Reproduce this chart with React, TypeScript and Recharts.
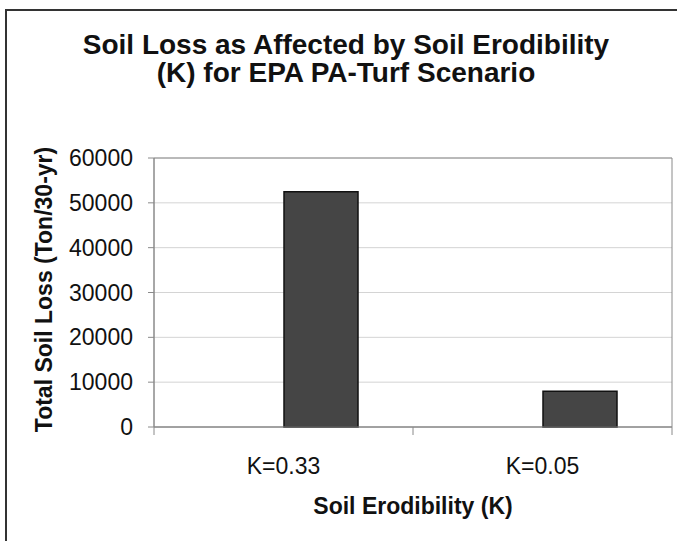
import { Bar, BarChart, CartesianGrid, Label, ReferenceArea, XAxis, YAxis } from "recharts";

const categories = ["K=0.33", "K=0.05"];
const soilLoss = [52500, 8000];
const yTicks = [0, 10000, 20000, 30000, 40000, 50000, 60000];

const data = categories.map((name, i) => ({ name, blank: null, value: soilLoss[i] }));

const FONT = "'Liberation Sans', Arial, sans-serif";
const AXIS_GRAY = "#8a8a8a";

function CategoryTick(props: any) {
  const { x, y, payload, index, visibleTicksCount } = props;
  const half = payload?.offset ?? 0;
  const last = index === (visibleTicksCount ?? categories.length) - 1;
  return (
    <g>
      <line x1={x - half} x2={x - half} y1={y - 8} y2={y} stroke={AXIS_GRAY} />
      {last && <line x1={x + half} x2={x + half} y1={y - 8} y2={y} stroke={AXIS_GRAY} />}
      <text x={x} y={y + 39} textAnchor="middle" fontSize={23} fontFamily={FONT} fill="#111">
        {payload.value}
      </text>
    </g>
  );
}

export default function App() {
  return (
    <div style={{ position: "absolute", left: 0, top: 0, width: 677, height: 541, overflow: "hidden", background: "#fff" }}>
      <div
        style={{
          position: "absolute",
          left: 5,
          top: 9,
          width: 720,
          height: 580,
          border: "2px solid #333",
          boxSizing: "border-box",
        }}
      />
      <div
        style={{
          position: "absolute",
          left: 0,
          top: 31,
          width: 692,
          textAlign: "center",
          fontFamily: FONT,
          fontWeight: "bold",
          fontSize: 28,
          lineHeight: "28px",
          color: "#111",
        }}
      >
        Soil Loss as Affected by Soil Erodibility
        <br />
        (K) for EPA PA-Turf Scenario
      </div>
      <div style={{ position: "absolute", left: 0, top: 0 }}>
        <BarChart
          width={677}
          height={541}
          data={data}
          margin={{ top: 158, right: 5, bottom: 34, left: 0 }}
          barSize={74}
          barGap={0}
        >
          <CartesianGrid vertical={false} stroke="#d4d4d4" />
          <ReferenceArea y1={0} y2={60000} fill="none" stroke={AXIS_GRAY} />
          <XAxis
            dataKey="name"
            height={80}
            tickLine={false}
            tickSize={8}
            tickMargin={0}
            axisLine={{ stroke: AXIS_GRAY }}
            tick={<CategoryTick />}
            interval={0}
          >
            <Label
              content={({ viewBox }: any) => (
                <text
                  x={viewBox.x + viewBox.width / 2}
                  y={514}
                  textAnchor="middle"
                  fontSize={23}
                  fontWeight="bold"
                  fontFamily={FONT}
                  fill="#111"
                >
                  Soil Erodibility (K)
                </text>
              )}
            />
          </XAxis>
          <YAxis
            width={154}
            domain={[0, 60000]}
            ticks={yTicks}
            interval={0}
            tickSize={6}
            tickMargin={15}
            tickLine={{ stroke: AXIS_GRAY }}
            axisLine={{ stroke: AXIS_GRAY }}
            tick={{ fontSize: 23, fontFamily: FONT, fill: "#111" }}
          >
            <Label
              content={({ viewBox }: any) => {
                const cy = viewBox.y + viewBox.height / 2 - 3;
                return (
                  <text
                    x={52}
                    y={cy}
                    transform={`rotate(-90 52 ${cy})`}
                    textAnchor="middle"
                    fontSize={23}
                    fontWeight="bold"
                    fontFamily={FONT}
                    fill="#111"
                  >
                    Total Soil Loss (Ton/30-yr)
                  </text>
                );
              }}
            />
          </YAxis>
          <Bar dataKey="blank" fill="#454545" isAnimationActive={false} />
          <Bar dataKey="value" fill="#454545" stroke="#111" strokeWidth={1.5} isAnimationActive={false} />
        </BarChart>
      </div>
    </div>
  );
}
